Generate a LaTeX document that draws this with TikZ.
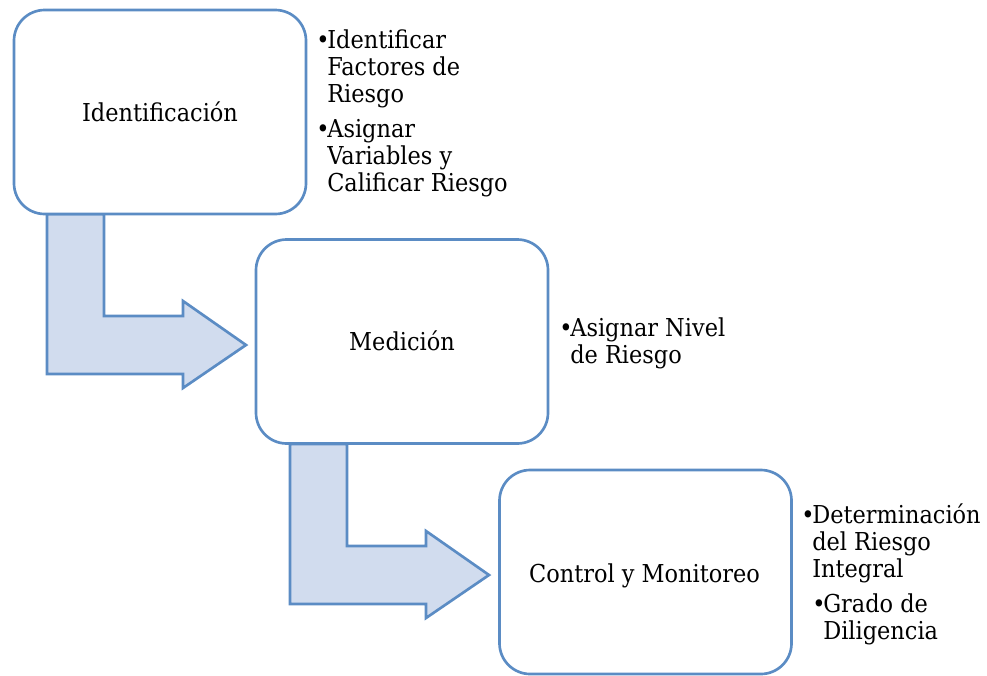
\documentclass[tikz,border=0pt]{standalone}
\usepackage{fontspec}
\setmainfont{DejaVu Serif}[FakeStretch=0.91]
\definecolor{edgeblue}{HTML}{5B8CC4}
\definecolor{arrowfill}{HTML}{D1DCEE}
\tikzset{
  stepbox/.style={draw=edgeblue, line width=2pt, fill=white, rounded corners=23pt,
    minimum width=219pt, minimum height=153pt, inner sep=0pt},
  boxtext/.style={anchor=base, inner sep=0pt, font=\fontsize{18.5}{20.6}\selectfont},
  bullettext/.style={anchor=base west, inner sep=0pt, font=\fontsize{18.5}{20.6}\selectfont},
  bentarrow/.pic={
    \draw[edgeblue, line width=2pt, fill=arrowfill, line join=miter]
      (0,0) -- (57,0) -- (57,102) -- (136,102) -- (136,87) -- (199,131)
      -- (136,174) -- (136,160) -- (0,160) -- cycle;
  }
}
\newcommand{\bul}{\makebox[8.25pt][l]{•}}
\begin{document}
\begin{tikzpicture}[x=0.75pt, y=-0.75pt]
\useasboundingbox (0,0) rectangle (987,675);
\pic at (47,214) {bentarrow};
\pic at (290,444) {bentarrow};
\node[stepbox] (b1) at (160,112) {};
\node[stepbox] (b2) at (402,341.5) {};
\node[stepbox] (b3) at (645.5,572) {};
\node[boxtext] (t1) at (160,121) {Identificación};
\node[boxtext] (t2) at (402,350) {Medición};
\node[boxtext] (t3) at (644.5,582) {Control y Monitoreo};
\node[bullettext] (l1) at (316,48) {\begin{tabular}[t]{@{}l@{}l@{}}\bul&Identificar\\&Factores de\\&Riesgo\end{tabular}};
\node[bullettext] (l2) at (316,137) {\begin{tabular}[t]{@{}l@{}l@{}}\bul&Asignar\\&Variables y\\&Calificar Riesgo\end{tabular}};
\node[bullettext] (l3) at (559,336) {\begin{tabular}[t]{@{}l@{}l@{}}\bul&Asignar Nivel\\&de Riesgo\end{tabular}};
\node[bullettext] (l4) at (801,523) {\begin{tabular}[t]{@{}l@{}l@{}}\bul&Determinación\\&del Riesgo\\&Integral\end{tabular}};
\node[bullettext] (l5) at (812,612) {\begin{tabular}[t]{@{}l@{}l@{}}\bul&Grado de\\&Diligencia\end{tabular}};
\end{tikzpicture}
\end{document}
